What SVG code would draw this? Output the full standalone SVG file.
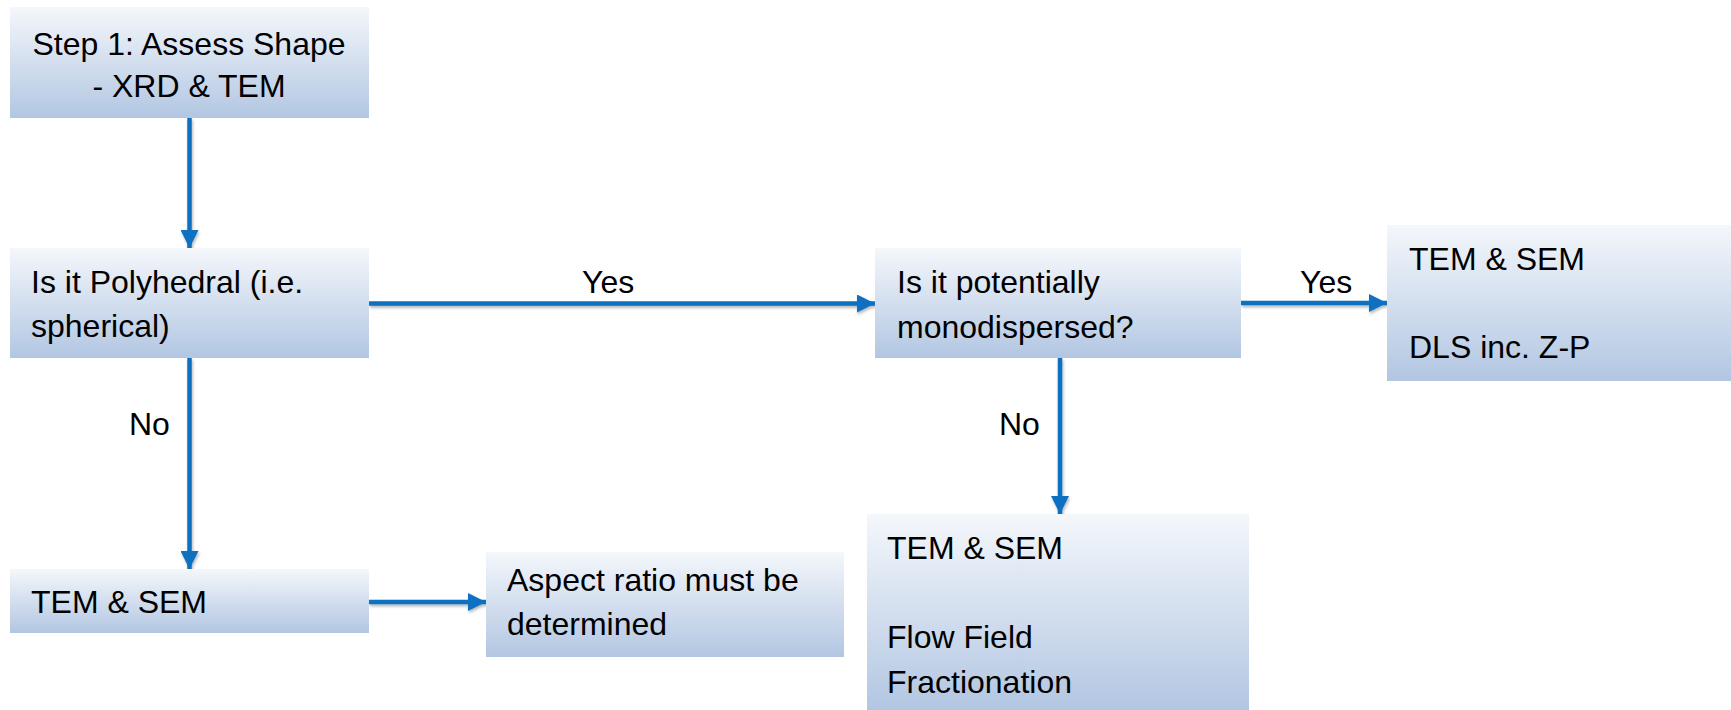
<svg xmlns="http://www.w3.org/2000/svg" width="1731" height="710" viewBox="0 0 1731 710">
  <defs>
    <linearGradient id="boxGrad" x1="0" y1="0" x2="0" y2="1">
      <stop offset="0" stop-color="#F4F7FB"/>
      <stop offset="1" stop-color="#B2C6E2"/>
    </linearGradient>
    <marker id="arrow" markerUnits="userSpaceOnUse" markerWidth="18" markerHeight="18" viewBox="0 0 16 16" refX="16" refY="8" orient="auto">
      <path d="M0,0 L16,8 L0,16 Z" fill="#0B6FC0"/>
    </marker>
    <filter id="shadow" x="-10%" y="-10%" width="120%" height="140%">
      <feDropShadow dx="1" dy="2" stdDeviation="1.5" flood-color="#000" flood-opacity="0.3"/>
    </filter>
  </defs>
  <style>
    .box { fill: url(#boxGrad); }
    .t { font-family: "Liberation Sans", Arial, sans-serif; font-size: 32px; fill: #000; }
    .conn { stroke: #0B6FC0; stroke-width: 4.5; fill: none; marker-end: url(#arrow); }
  </style>
  <rect width="1731" height="710" fill="#fff"/>

  <g id="connectors" filter="url(#shadow)">
    <line class="conn" x1="189.5" y1="118" x2="189.5" y2="248"/>
    <line class="conn" x1="369" y1="303.5" x2="875" y2="303.5"/>
    <line class="conn" x1="1241" y1="303" x2="1387" y2="303"/>
    <line class="conn" x1="189.5" y1="358" x2="189.5" y2="569"/>
    <line class="conn" x1="1060" y1="358" x2="1060" y2="514"/>
    <line class="conn" x1="369" y1="602" x2="486" y2="602"/>
  </g>

  <g id="labels">
    <text class="t" x="582" y="293">Yes</text>
    <text class="t" x="1300" y="293">Yes</text>
    <text class="t" x="129" y="435">No</text>
    <text class="t" x="999" y="435">No</text>
  </g>

  <g id="step1">
    <rect class="box" x="10" y="7" width="359" height="111"/>
    <text class="t" x="189" y="55" text-anchor="middle">Step 1: Assess Shape</text>
    <text class="t" x="189" y="97" text-anchor="middle">- XRD &amp; TEM</text>
  </g>

  <g id="polyhedral">
    <rect class="box" x="10" y="248" width="359" height="110"/>
    <text class="t" x="31" y="293">Is it Polyhedral (i.e.</text>
    <text class="t" x="31" y="337">spherical)</text>
  </g>

  <g id="monodispersed">
    <rect class="box" x="875" y="248" width="366" height="110"/>
    <text class="t" x="897" y="293">Is it potentially</text>
    <text class="t" x="897" y="338">monodispersed?</text>
  </g>

  <g id="dls">
    <rect class="box" x="1387" y="225" width="344" height="156"/>
    <text class="t" x="1409" y="270">TEM &amp; SEM</text>
    <text class="t" x="1409" y="358">DLS inc. Z-P</text>
  </g>

  <g id="temsem-left">
    <rect class="box" x="10" y="569" width="359" height="64"/>
    <text class="t" x="31" y="613">TEM &amp; SEM</text>
  </g>

  <g id="aspect">
    <rect class="box" x="486" y="552" width="358" height="105"/>
    <text class="t" x="507" y="591">Aspect ratio must be</text>
    <text class="t" x="507" y="635">determined</text>
  </g>

  <g id="fff">
    <rect class="box" x="867" y="514" width="382" height="196"/>
    <text class="t" x="887" y="559">TEM &amp; SEM</text>
    <text class="t" x="887" y="648">Flow Field</text>
    <text class="t" x="887" y="693">Fractionation</text>
  </g>
</svg>
